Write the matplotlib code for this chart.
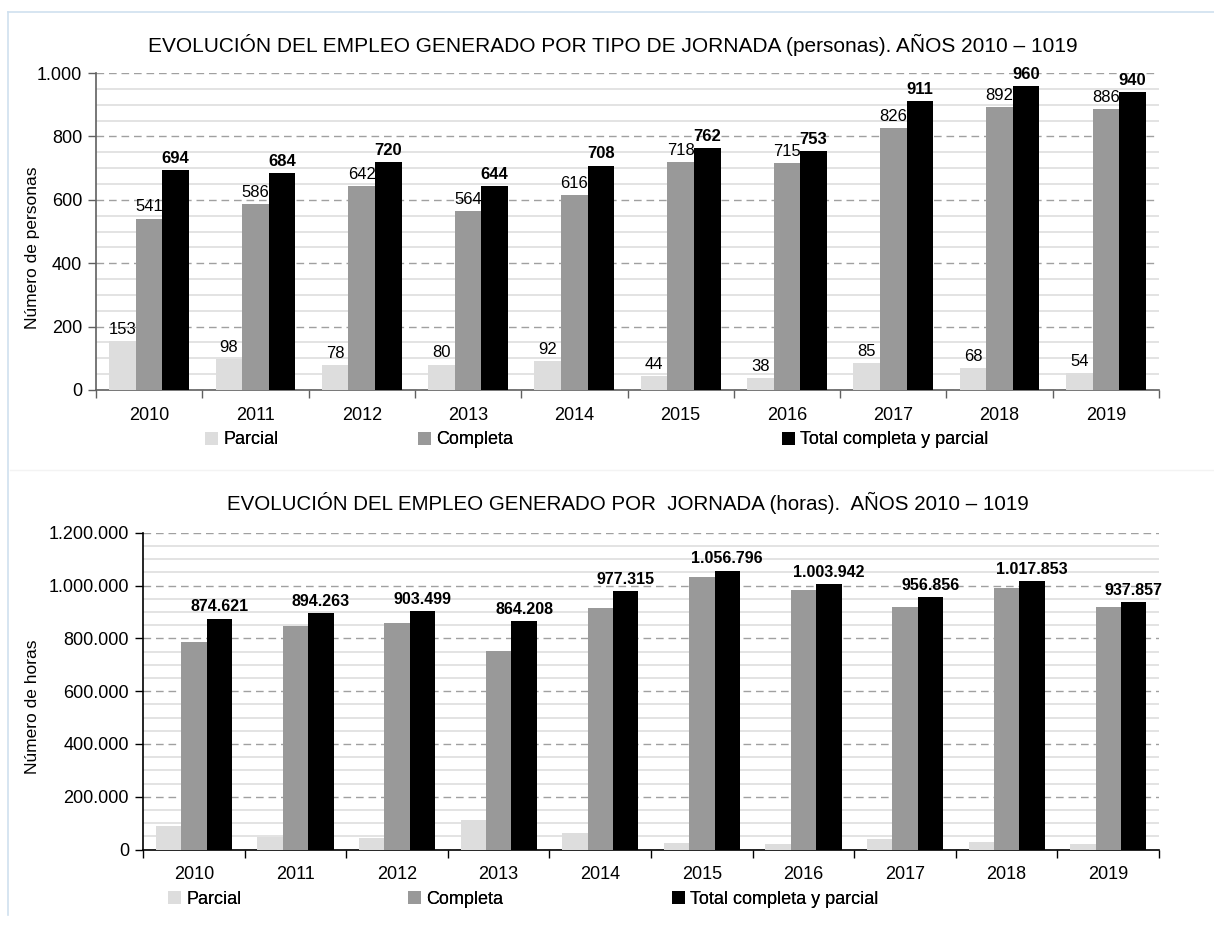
import matplotlib
matplotlib.use("Agg")
import matplotlib.pyplot as plt
from matplotlib.patches import Patch
from matplotlib.lines import Line2D
from matplotlib.ticker import FuncFormatter, MultipleLocator, FixedLocator
import numpy as np

plt.rcParams['font.family'] = ['Liberation Sans', 'DejaVu Sans']

years = ['2010', '2011', '2012', '2013', '2014', '2015', '2016', '2017', '2018', '2019']

# Personas
pers_parcial = [153, 98, 78, 80, 92, 44, 38, 85, 68, 54]
pers_completa = [541, 586, 642, 564, 616, 718, 715, 826, 892, 886]
pers_total = [694, 684, 720, 644, 708, 762, 753, 911, 960, 940]

# Horas
hor_parcial = [90000, 48000, 44000, 112000, 63000, 25000, 21000, 39000, 27000, 19000]
hor_completa = [784621, 846263, 859499, 752208, 914315, 1031796, 982942, 917856, 990853, 918857]
hor_total = [874621, 894263, 903499, 864208, 977315, 1056796, 1003942, 956856, 1017853, 937857]

series_names = ['Parcial', 'Completa', 'Total completa y parcial']
colors = ['#dddddd', '#999999', '#000000']

W, H = 1214, 925
fig = plt.figure(figsize=(W / 100, H / 100), dpi=100)


def thousands(v, pos=None):
    return f"{int(round(v)):,}".replace(',', '.')


def fx(px):
    return px / W


def fy(py):
    return 1 - py / H


def make_axes(rect, ymax, major, minor, spine_color):
    ax = fig.add_axes(rect)
    ax.set_xlim(0, len(years))
    ax.set_ylim(0, ymax)
    ax.set_axisbelow(True)
    ax.yaxis.set_major_locator(MultipleLocator(major))
    ax.yaxis.set_minor_locator(MultipleLocator(minor))
    ax.yaxis.set_major_formatter(FuncFormatter(thousands))
    ax.grid(axis='y', which='minor', color='#e0e0e0', linewidth=1.3, linestyle='-')
    ax.grid(axis='y', which='major', color='#a0a0a0', linewidth=1.0, linestyle=(0, (5.5, 3.5)))
    ax.xaxis.set_major_locator(FixedLocator(np.arange(0, len(years) + 1)))
    ax.xaxis.set_major_formatter(FuncFormatter(lambda v, p: ''))
    ax.xaxis.set_minor_locator(FixedLocator(np.arange(len(years)) + 0.5))
    ax.set_xticklabels(years, minor=True)
    ax.tick_params(axis='x', which='major', length=6, width=1, color=spine_color, direction='out')
    ax.tick_params(axis='x', which='minor', length=0, pad=12, labelsize=13)
    ax.tick_params(axis='y', which='major', length=6, width=1, color=spine_color, labelsize=13, pad=4)
    ax.tick_params(axis='y', which='minor', length=0)
    for s in ['top', 'right']:
        ax.spines[s].set_visible(False)
    for s in ['left', 'bottom']:
        ax.spines[s].set_color(spine_color)
        ax.spines[s].set_linewidth(1.2)
    return ax


def draw_bars(ax, data, label_fmt, label_flags, fsize, offset):
    x = np.arange(len(years)) + 0.5
    bw = 0.25
    for i, (vals, col) in enumerate(zip(data, colors)):
        xs = x + (i - 1) * bw
        ax.bar(xs, vals, width=bw, color=col, zorder=3)
        if label_flags[i]:
            weight = 'bold' if i == 2 else 'normal'
            for xi, v in zip(xs, vals):
                ax.annotate(label_fmt(v), (xi, v), xytext=(0, offset), textcoords='offset points',
                            ha='center', va='bottom', fontsize=fsize, fontweight=weight,
                            color='#000000', zorder=4)


def add_legend(handle_left_px, y_px):
    for name, col, xp in zip(series_names, colors, handle_left_px):
        lg = fig.legend(handles=[Patch(facecolor=col, edgecolor='none')], labels=[name],
                        loc='center left', bbox_to_anchor=(fx(xp), fy(y_px)),
                        frameon=False, fontsize=13, handlelength=0.7, handleheight=0.7,
                        handletextpad=0.3, borderpad=0, borderaxespad=0)
        fig.add_artist(lg)


# ---- Top chart ----
ax1 = make_axes([fx(96), fy(390), fx(1159) - fx(96), fy(73) - fy(390)], 1000, 200, 50, '#606060')
draw_bars(ax1, [pers_parcial, pers_completa, pers_total], lambda v: str(v), [True, True, True], 12, 3)
fig.text(fx(33), fy(248), 'Número de personas', rotation=90, ha='center', va='center', fontsize=12.5)
fig.text(fx(613), fy(45), 'EVOLUCIÓN DEL EMPLEO GENERADO POR TIPO DE JORNADA (personas). AÑOS 2010 – 1019',
         ha='center', va='center', fontsize=15)
add_legend([205, 418, 782], 440)

# ---- Bottom chart ----
ax2 = make_axes([fx(143), fy(849.5), fx(1159) - fx(143), fy(532.7) - fy(849.5)], 1200000, 200000, 50000, '#000000')
draw_bars(ax2, [hor_parcial, hor_completa, hor_total], thousands, [False, False, True], 11.5, 3)
fig.text(fx(33), fy(707), 'Número de horas', rotation=90, ha='center', va='center', fontsize=12.5)
fig.text(fx(628), fy(503), 'EVOLUCIÓN DEL EMPLEO GENERADO POR  JORNADA (horas).  AÑOS 2010 – 1019',
         ha='center', va='center', fontsize=14.8)
add_legend([168, 408, 672], 899)

# frame lines
fig.add_artist(Line2D([fx(8), 1], [fy(12), fy(12)], color='#cfe0ef', linewidth=1.2))
fig.add_artist(Line2D([fx(8), fx(8)], [fy(12), fy(915)], color='#cfe0ef', linewidth=1.2))
fig.add_artist(Line2D([fx(10), 1], [fy(470), fy(470)], color='#f3f3f3', linewidth=1.0))

fig.savefig('out.png', dpi=100)
